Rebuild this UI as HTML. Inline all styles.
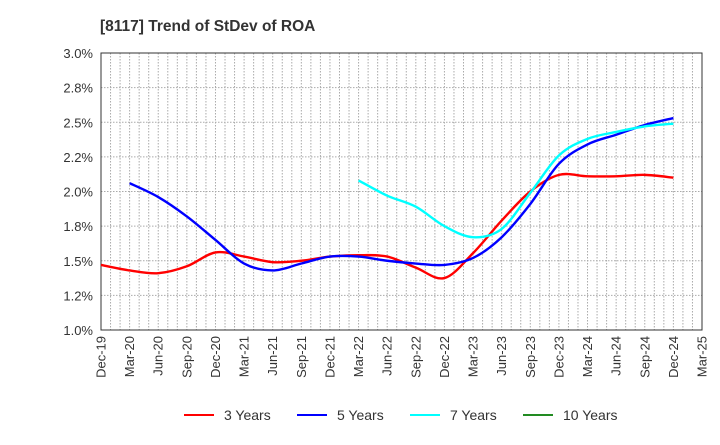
<!DOCTYPE html>
<html><head><meta charset="utf-8"><style>
body{margin:0;background:#fff;font-family:"Liberation Sans",sans-serif}
svg text{font-family:"Liberation Sans",sans-serif}
</style></head><body>
<svg width="720" height="440" viewBox="0 0 720 440">
<text x="100" y="31" font-size="15.5" font-weight="bold" fill="#333">[8117]  Trend of StDev of ROA</text>
<g id="grid"></g>
<g id="axes"></g>
<g id="series"></g>
<g id="legend"></g>
</svg>
<script>
const xLabels=["Dec-19","Mar-20","Jun-20","Sep-20","Dec-20","Mar-21","Jun-21","Sep-21","Dec-21","Mar-22","Jun-22","Sep-22","Dec-22","Mar-23","Jun-23","Sep-23","Dec-23","Mar-24","Jun-24","Sep-24","Dec-24","Mar-25"];
const yTicks=[1.0,1.25,1.5,1.75,2.0,2.25,2.5,2.75,3.0];
const yTickLabels=["1.0%","1.2%","1.5%","1.8%","2.0%","2.2%","2.5%","2.8%","3.0%"];
const s3=[1.47,1.43,1.41,1.46,1.56,1.53,1.49,1.50,1.53,1.54,1.53,1.45,1.375,1.555,1.79,2.00,2.12,2.11,2.11,2.12,2.10];
const s5=[null,2.06,1.96,1.82,1.65,1.48,1.43,1.48,1.53,1.53,1.50,1.48,1.47,1.52,1.67,1.91,2.20,2.34,2.41,2.48,2.53];
const s7=[null,null,null,null,null,null,null,null,null,2.08,1.97,1.89,1.75,1.67,1.73,1.99,2.26,2.38,2.43,2.47,2.49];
const s10=[];
const L=101,R=702,T=53,B=330;
const xs=i=>L+i*(R-L)/21;
const ys=v=>B-(v-1)/2*(B-T);
const NS="http://www.w3.org/2000/svg";
function mk(tag,attrs,parent){const e=document.createElementNS(NS,tag);for(const k in attrs)e.setAttribute(k,attrs[k]);parent.appendChild(e);return e;}
const grid=document.getElementById('grid'),axes=document.getElementById('axes'),ser=document.getElementById('series'),leg=document.getElementById('legend');
for(let m=1;m<63;m++){const x=L+m*(R-L)/63;
const g=mk('line',{x1:x,x2:x,y1:T,y2:B,stroke:'#aaa','stroke-dasharray':'1.5,1.5','stroke-width':1},grid);

}
yTicks.forEach((v,i)=>{const y=ys(v);
const g=mk('line',{x1:L,x2:R,y1:y,y2:y,stroke:'#aaa','stroke-dasharray':'1.5,1.5','stroke-width':1},grid);


const t=mk('text',{x:L-8,y:y+5,'text-anchor':'end','font-size':13,fill:'#333'},axes);t.textContent=yTickLabels[i];

});
const fr=mk('rect',{x:L,y:T,width:R-L,height:B-T,fill:'none',stroke:'#333','stroke-width':1},axes);


xLabels.forEach((lb,i)=>{const x=xs(i);
const t=mk('text',{x:0,y:0,'text-anchor':'end','font-size':13,fill:'#333',transform:`translate(${x+4.5},${B+6}) rotate(-90)`},axes);t.textContent=lb;

});
function path(data){const pts=[];data.forEach((v,i)=>{if(v!=null)pts.push([xs(i),ys(v)]);});
if(pts.length<2)return '';let d=`M${pts[0][0]},${pts[0][1]}`;
for(let i=0;i<pts.length-1;i++){const p0=pts[Math.max(0,i-1)],p1=pts[i],p2=pts[i+1],p3=pts[Math.min(pts.length-1,i+2)];
const c1=[p1[0]+(p2[0]-p0[0])/6,p1[1]+(p2[1]-p0[1])/6],c2=[p2[0]-(p3[0]-p1[0])/6,p2[1]-(p3[1]-p1[1])/6];
d+=`C${c1[0]},${c1[1]} ${c2[0]},${c2[1]} ${p2[0]},${p2[1]}`;}return d;}
const series=[[s3,'#ff0000','3 Years','line-3-years'],[s5,'#0000ff','5 Years','line-5-years'],[s7,'#00ffff','7 Years','line-7-years'],[s10,'#228b22','10 Years','line-10-years']];
series.forEach((s,k)=>{const d=path(s[0]);if(d){const p=mk('path',{d:d,fill:'none',stroke:s[1],'stroke-width':2.4},ser);

}
const lx=184+k*113;
const l=mk('line',{x1:lx,x2:lx+30,y1:415,y2:415,stroke:s[1],'stroke-width':2},leg);


const t=mk('text',{x:lx+40,y:420,'font-size':14,fill:'#333'},leg);t.textContent=s[2];

});
</script>
</body></html>
